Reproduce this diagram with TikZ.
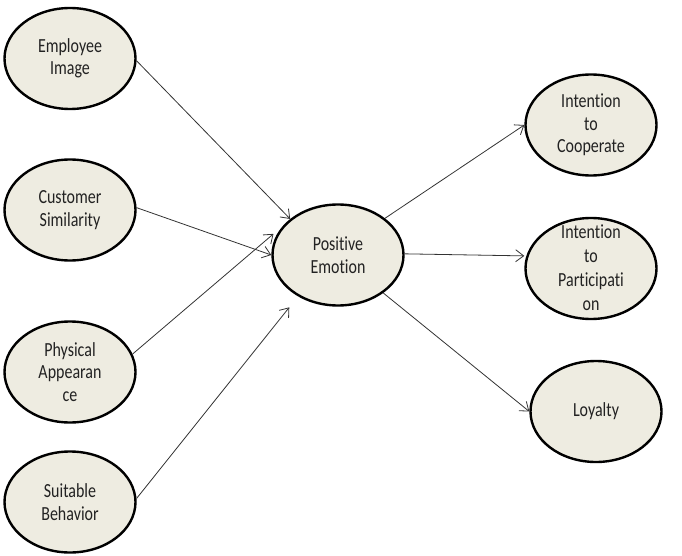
\documentclass[tikz,border=0pt]{standalone}
\usepackage{fontspec}
\setmainfont{Carlito}[FakeStretch=0.8,Ligatures={NoCommon,NoContextual}]
\usetikzlibrary{shapes.geometric,arrows.meta}
\definecolor{ellfill}{HTML}{EEECE1}
\definecolor{txtcol}{HTML}{222222}
\definecolor{arrcol}{HTML}{333333}
\tikzset{
  ell/.style={ellipse, draw=black, line width=2.4pt, fill=ellfill, inner sep=0pt,
    minimum width=131pt, minimum height=101pt},
  lbl/.style={align=center, text=txtcol, inner sep=0pt,
    font=\fontsize{20pt}{22.5pt}\selectfont},
  conn/.style={draw=arrcol, line width=0.8pt, -{Straight Barb[length=8pt,width=12pt]}}
}
\begin{document}
\begin{tikzpicture}[x=1pt,y=-1pt]
\useasboundingbox (0,0) rectangle (682,556);
% ellipses
\node[ell] (ei) at (70,58.5) {};
\node[ell] (cs) at (70,210) {};
\node[ell] (pa) at (70,372) {};
\node[ell] (sb) at (70,502) {};
\node[ell] (pe) at (338,255) {};
\node[ell] (co) at (591,125) {};
\node[ell] (pt) at (591,268.5) {};
\node[ell] (lo) at (596,411.5) {};
% labels
\node[lbl] (ei-t) at (ei) {Employee\\Image};
\node[lbl] (cs-t) at (cs) {Customer\\Similarity};
\node[lbl] (pa-t) at (pa) {Physical\\Appearan\\ce};
\node[lbl] (sb-t) at (sb) {Suitable\\Behavior};
\node[lbl] (pe-t) at (pe) {Positive\\Emotion};
\node[lbl] (co-t) at (co) {Intention\\to\\Cooperate};
\node[lbl, font=\fontsize{20pt}{24pt}\selectfont] (pt-t) at ([yshift=1pt]pt) {Intention\\to\\Participati\\on};
\node[lbl] (lo-t) at (lo) {Loyalty};
% connectors
\draw[conn] (ei.-2) -- (pe.143);
\draw[conn] (cs.2) -- (pe.180);
\draw[conn, shorten >=12.5pt] (pa.16) -- (pe.152);
\draw[conn, shorten >=14pt] (sb.3) -- (pe.226);
\draw[conn] (pe.38) -- (co.180);
\draw[conn, shorten >=2pt] (pe.1) -- (pt.169);
\draw[conn] (pe.-40) -- (lo.180);
\end{tikzpicture}
\end{document}
